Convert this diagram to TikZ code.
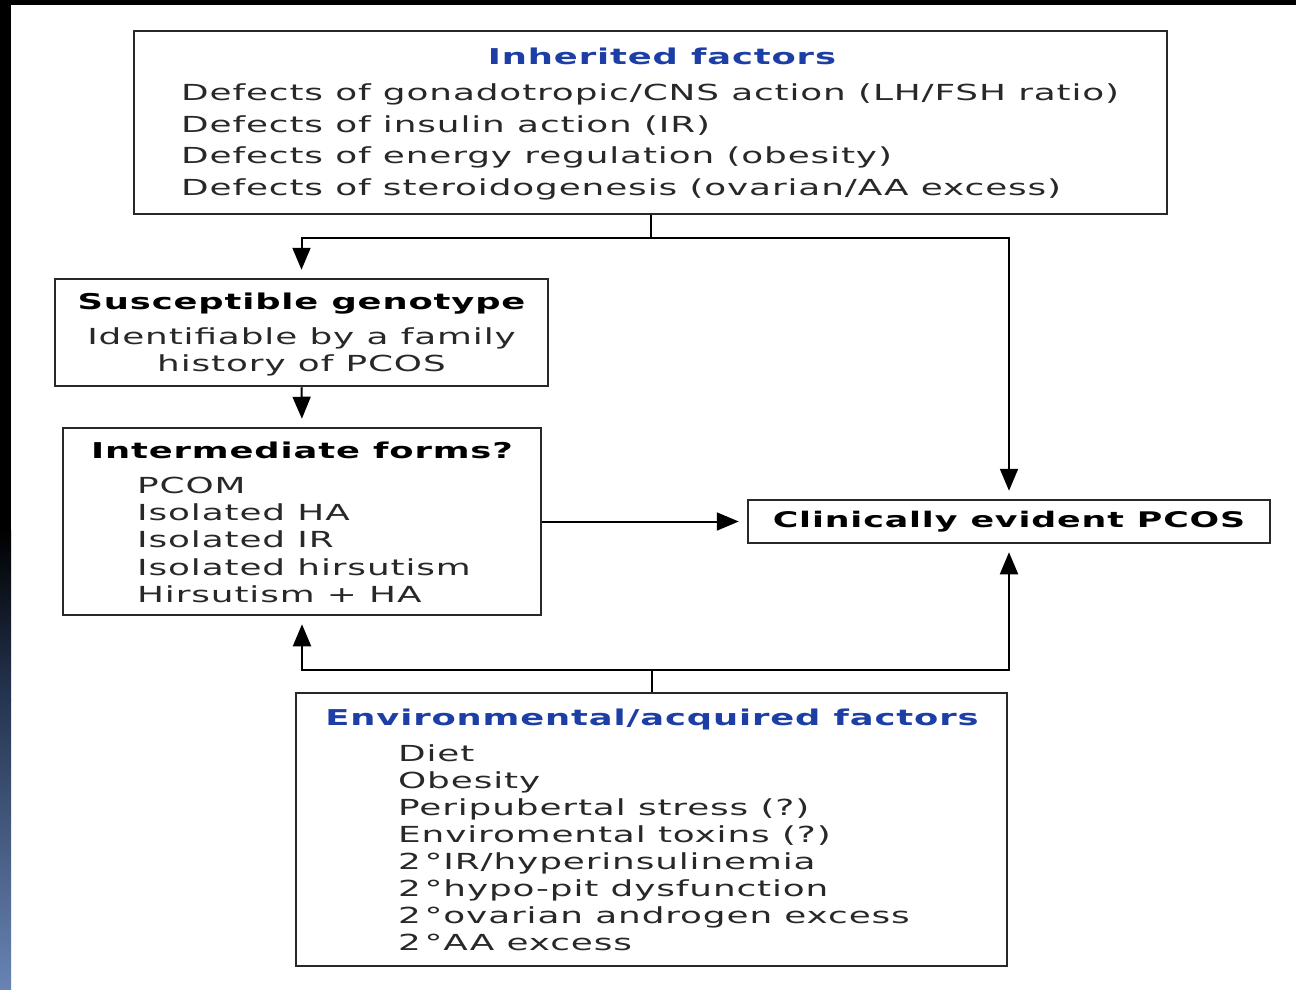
\documentclass[tikz,border=0pt]{standalone}
\usepackage{fontspec}
\setmainfont{DejaVu Sans}[FakeStretch=1.62,LetterSpace=4]
\usetikzlibrary{arrows.meta}

\definecolor{headblue}{RGB}{28,62,165}
\definecolor{bodygray}{RGB}{40,40,40}
\definecolor{framegray}{RGB}{40,40,40}
\definecolor{navyedge}{RGB}{38,54,82}
\definecolor{steeledge}{RGB}{104,132,180}

\begin{document}
\begin{tikzpicture}[x=1pt, y=-1pt]

%-------------------------------------------------
% Styles
%-------------------------------------------------
\tikzset{
  box/.style={draw=framegray, line width=2.5pt, fill=white, inner sep=0pt},
  head/.style={anchor=base, inner sep=0pt, font=\fontsize{21.8}{27}\selectfont\bfseries, text=black},
  bluehead/.style={head, text=headblue},
  item/.style={anchor=base west, inner sep=0pt, font=\fontsize{22.1}{27}\selectfont, text=bodygray},
  centeritem/.style={item, anchor=base},
  conn/.style={draw=black, line width=2pt},
  arr/.style={conn, -{Triangle[length=22pt,width=18pt]}, shorten >=8pt}
}

\useasboundingbox (0,0) rectangle (1296,990);

%-------------------------------------------------
% Frame edges
%-------------------------------------------------
\fill[white] (0,0) rectangle (1296,990);
\fill[black] (0,0) rectangle (1296,5);
\fill[black] (0,0) rectangle (11,530);
\shade[top color=black, bottom color=navyedge] (0,530) rectangle (11,700);
\shade[top color=navyedge, bottom color=steeledge] (0,700) rectangle (11,990);

%-------------------------------------------------
% Boxes
%-------------------------------------------------
\node[box, minimum width=1033pt, minimum height=183pt] (inh) at (650.5,122.5) {};
\node[box, minimum width=493pt, minimum height=107pt] (sus) at (301.5,332.5) {};
\node[box, minimum width=478pt, minimum height=187pt] (mid) at (302,521.5) {};
\node[box, minimum width=522pt, minimum height=43pt, font=\fontsize{21.5}{26}\selectfont\bfseries] (pcos) at (1009,521.5) {Clinically evident PCOS};
\node[box, minimum width=711pt, minimum height=273pt] (env) at (651.5,829.5) {};

%-------------------------------------------------
% Inherited factors
%-------------------------------------------------
\node[bluehead] (inhhead) at (662,65) {Inherited factors};
\foreach \txt [count=\k from 0] in {Defects of gonadotropic/CNS action (LH/FSH ratio),
  Defects of insulin action (IR), Defects of energy regulation (obesity),
  Defects of steroidogenesis (ovarian/AA excess)}
  \node[item] (inh\k) at (181,{100.5+31.7*\k}) {\txt};

%-------------------------------------------------
% Susceptible genotype
%-------------------------------------------------
\node[head] (sushead) at (301.5,309) {Susceptible genotype};
\node[centeritem] (sus0) at (301.5,344) {Identifiable by a family};
\node[centeritem] (sus1) at (301.5,371.5) {history of PCOS};

%-------------------------------------------------
% Intermediate forms
%-------------------------------------------------
\node[head] (midhead) at (302,458) {Intermediate forms?};
\foreach \txt [count=\k from 0] in {PCOM, Isolated HA, Isolated IR,
  Isolated hirsutism, Hirsutism + HA}
  \node[item] (mid\k) at (137,{493+27.4*\k}) {\txt};

%-------------------------------------------------
% Environmental/acquired factors
%-------------------------------------------------
\node[bluehead] (envhead) at (652,725) {Environmental/acquired factors};
\foreach \txt [count=\k from 0] in {Diet, Obesity, Peripubertal stress (?),
  Enviromental toxins (?), 2\,°IR/hyperinsulinemia, 2\,°hypo-pit dysfunction,
  2\,°ovarian androgen excess, 2\,°AA excess}
  \node[item] (env\k) at (398,{761+27.1*\k}) {\txt};

%-------------------------------------------------
% Connectors
%-------------------------------------------------
\draw[conn] (inh.south) -- ++(0,23) coordinate (inhsplit);
\draw[arr] (inhsplit) -| (sus.north);
\draw[arr] (inhsplit) -| (pcos.north);
\draw[arr] (sus.south) -- (mid.north);
\draw[arr] (mid.east) -- (pcos.west);
\draw[conn] (env.north) -- ++(0,-22) coordinate (envsplit);
\draw[arr] (envsplit) -| (mid.south);
\draw[arr] (envsplit) -| (pcos.south);

\end{tikzpicture}
\end{document}
